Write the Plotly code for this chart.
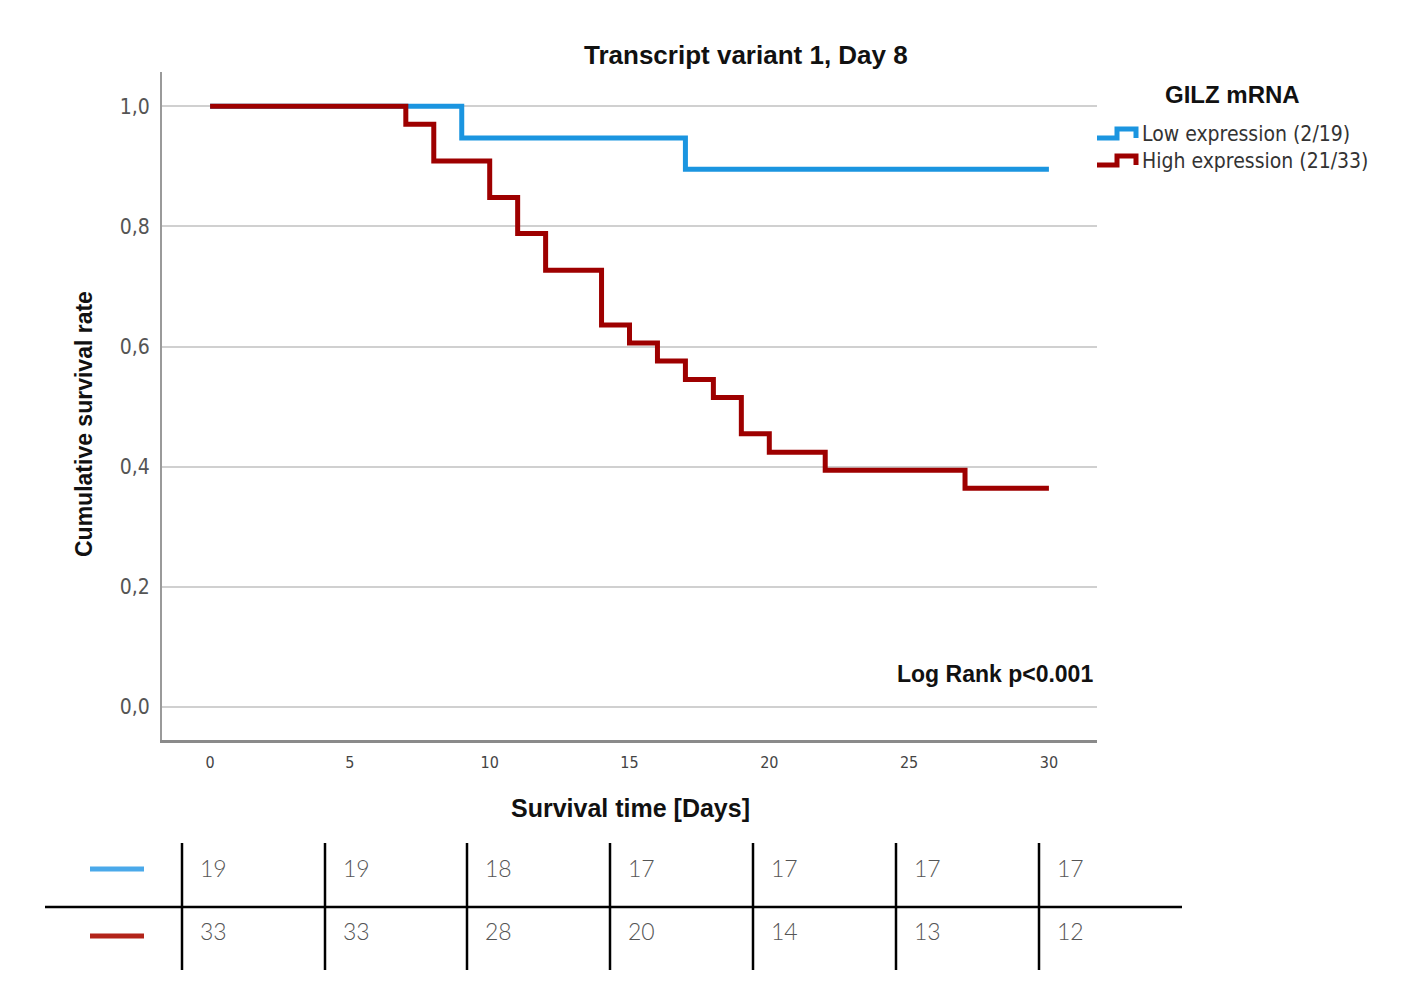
import plotly.graph_objects as go

# ---- data ----
low_days = [0, 9, 17, 30]
low_surv = [1.0, 0.947, 0.895, 0.895]
high_days = [0, 7, 8, 10, 11, 12, 14, 15, 16, 17, 18, 19, 20, 22, 27, 30]
high_surv = [1.0, 0.970, 0.909, 0.848, 0.788, 0.727, 0.636, 0.606, 0.576,
             0.545, 0.515, 0.455, 0.424, 0.394, 0.364, 0.364]
risk_low = [19, 19, 18, 17, 17, 17, 17]
risk_high = [33, 33, 28, 20, 14, 13, 12]
series_names = ["Low expression (2/19)", "High expression (21/33)"]
x_ticks = [0, 5, 10, 15, 20, 25, 30]
y_ticks = [0.0, 0.2, 0.4, 0.6, 0.8, 1.0]

BLUE = "#1b95e0"
RED = "#9e0000"
BLUE_T = "#4aa9ea"
RED_T = "#b3241a"

W, H = 1428, 984
L, R, T, B = 162, 1097, 72, 740


def px(x):
    return (x - L) / (R - L)


def py(y):
    return (B - y) / (B - T)


fig = go.Figure()
fig.add_trace(go.Scatter(x=low_days, y=low_surv, mode="lines", line_shape="hv",
                         line=dict(color=BLUE, width=5), name=series_names[0]))
fig.add_trace(go.Scatter(x=high_days, y=high_surv, mode="lines", line_shape="hv",
                         line=dict(color=RED, width=5), name=series_names[1]))

NARROW = "DejaVu Sans Condensed, Liberation Sans Narrow, sans-serif"
BOLDF = "Liberation Sans, Arial, sans-serif"

fig.update_layout(
    width=W, height=H, plot_bgcolor="white", paper_bgcolor="white",
    margin=dict(l=L, r=W - R, t=T, b=H - B),
    showlegend=False, separators=",.",
    xaxis=dict(range=[-1.72, 31.72], tickvals=x_ticks, showgrid=False, zeroline=False,
               showline=True, linecolor="#8a8a8a", linewidth=3, ticks="",
               tickfont=dict(family=NARROW, size=16, color="#444"), ticklabelstandoff=6),
    yaxis=dict(range=[-0.055, 1.057], tickvals=y_ticks, tickformat=".1f",
               showgrid=True, gridcolor="#d0d0d0", gridwidth=2, zeroline=False,
               showline=True, linecolor="#9a9a9a", linewidth=2, ticks="",
               tickfont=dict(family=NARROW, size=21, color="#555"), ticklabelstandoff=6),
)


def note(text, x, y, size, family=BOLDF, color="#111", xanchor="center", **kw):
    return dict(text=text, x=px(x), y=py(y), xref="paper", yref="paper", xanchor=xanchor,
                yanchor="middle", showarrow=False, font=dict(family=family, size=size, color=color), **kw)


ann = []
ann.append(note("<b>Transcript variant 1, Day 8</b>", 746, 55, 26))
ann.append(note("<b>Survival time [Days]</b>", 630, 808, 25))
ann.append(note("<b>Cumulative survival rate</b>", 84, 424, 23, textangle=-90))
ann.append(note("<b>Log Rank p<0.001</b>", 1095, 674, 23, xanchor="right"))
ann.append(note("<b>GILZ mRNA</b>", 1232, 95, 24))
for nm, yy in zip(series_names, [134, 161]):
    ann.append(note(nm, 1140, yy, 21, family=NARROW, color="#333", xanchor="left"))

shapes = []
# legend step icons
for col, yy in [(BLUE, 134), (RED, 161)]:
    pts = [(1097, yy + 4), (1117, yy + 4), (1117, yy - 5), (1136, yy - 5), (1136, yy + 4)]
    path = "M " + " L ".join(f"{px(a)},{py(b)}" for a, b in pts)
    shapes.append(dict(type="path", path=path, xref="paper", yref="paper",
                       line=dict(color=col, width=5)))

# number-at-risk table
col_x = [182, 325, 467, 610, 753, 896, 1039]
for cx in col_x:
    shapes.append(dict(type="line", xref="paper", yref="paper", x0=px(cx), x1=px(cx),
                       y0=py(843), y1=py(970), line=dict(color="black", width=2.5)))
shapes.append(dict(type="line", xref="paper", yref="paper", x0=px(45), x1=px(1182),
                   y0=py(907), y1=py(907), line=dict(color="black", width=2.5)))
shapes.append(dict(type="line", xref="paper", yref="paper", x0=px(90), x1=px(144),
                   y0=py(869), y1=py(869), line=dict(color=BLUE_T, width=5)))
shapes.append(dict(type="line", xref="paper", yref="paper", x0=px(90), x1=px(144),
                   y0=py(936), y1=py(936), line=dict(color=RED_T, width=5)))
for cx, a, b in zip(col_x, risk_low, risk_high):
    for val, yy in [(a, 868), (b, 931)]:
        ann.append(dict(text=str(val), x=px(cx + 16), y=py(yy), xref="paper", yref="paper",
                        xanchor="left", yanchor="middle", showarrow=False,
                        font=dict(family="Lato, sans-serif", size=23, color="#555", weight=300)))

fig.update_layout(annotations=ann, shapes=shapes)
fig.write_html("out.html")
